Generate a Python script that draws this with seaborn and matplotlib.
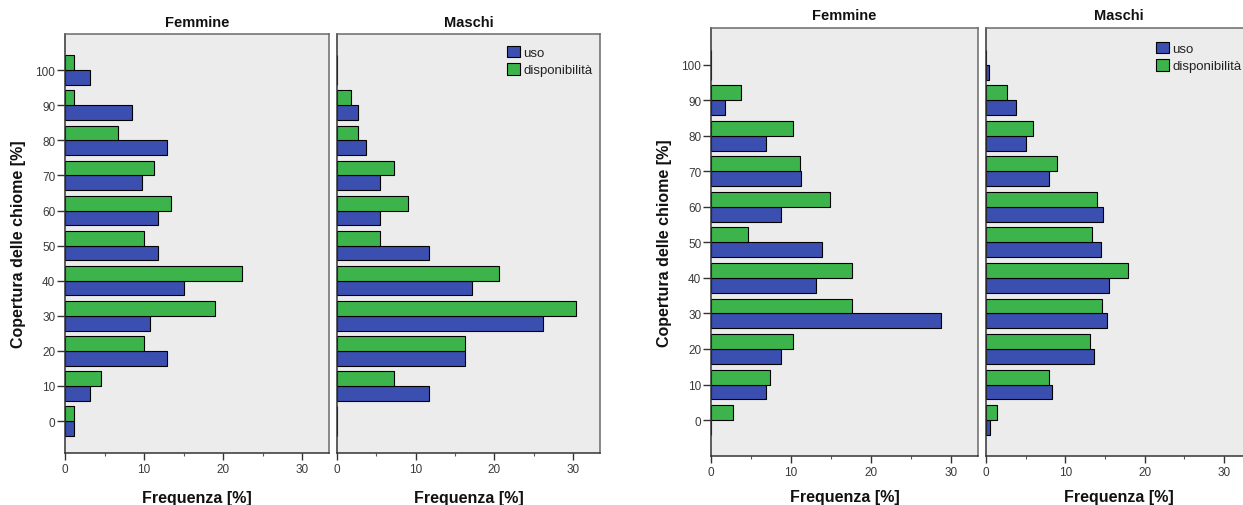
import matplotlib
matplotlib.use("Agg")
import matplotlib.pyplot as plt
from matplotlib.patches import Patch
from matplotlib.ticker import MultipleLocator
import pandas as pd
import seaborn as sns

# Classi di copertura delle chiome [%]
copertura = [0, 10, 20, 30, 40, 50, 60, 70, 80, 90, 100]
serie = ["uso", "disponibilità"]
pannelli = ["Femmine", "Maschi"]

# Grafico di sinistra: frequenze [%] per classe di copertura
uso_femmine_a = [1.1, 3.2, 12.9, 10.7, 15.0, 11.8, 11.8, 9.7, 12.9, 8.5, 3.2]
disp_femmine_a = [1.1, 4.5, 10.0, 19.0, 22.4, 10.0, 13.4, 11.2, 6.7, 1.1, 1.1]
uso_maschi_a = [0.0, 11.7, 16.3, 26.2, 17.2, 11.7, 5.5, 5.5, 3.7, 2.7, 0.0]
disp_maschi_a = [0.0, 7.2, 16.2, 30.4, 20.6, 5.5, 9.0, 7.2, 2.7, 1.8, 0.0]

# Grafico di destra
uso_femmine_b = [0.0, 6.9, 8.7, 28.8, 13.1, 13.9, 8.7, 11.3, 6.9, 1.7, 0.0]
disp_femmine_b = [2.8, 7.4, 10.2, 17.7, 17.7, 4.6, 14.9, 11.1, 10.2, 3.7, 0.0]
uso_maschi_b = [0.5, 8.3, 13.6, 15.2, 15.5, 14.5, 14.7, 8.0, 5.0, 3.8, 0.4]
disp_maschi_b = [1.4, 7.9, 13.1, 14.6, 17.9, 13.3, 14.0, 9.0, 5.9, 2.6, 0.0]

colori = {"uso": "#3a4fb0", "disponibilità": "#3cb44b"}

sns.set_style("white")
plt.rcParams["font.family"] = ["Liberation Sans", "DejaVu Sans"]

W, H = 1243, 506
fig = plt.figure(figsize=(W / 100, H / 100), dpi=100)


def riquadro(l, t, r, b):
    return [l / W, 1 - b / H, (r - l) / W, (b - t) / H]


def tabella(uso, disp):
    n = len(copertura)
    return pd.DataFrame({
        "copertura": copertura * 2,
        "frequenza": list(uso) + list(disp),
        "serie": [serie[0]] * n + [serie[1]] * n,
    })


grafici = [
    dict(dati=[(uso_femmine_a, disp_femmine_a), (uso_maschi_a, disp_maschi_a)],
         box=[(65, 35, 329, 454), (337, 35, 600, 454)],
         ylim=(-9.1, 110.3), titolo_y=22.7, legenda=(507, 47)),
    dict(dati=[(uso_femmine_b, disp_femmine_b), (uso_maschi_b, disp_maschi_b)],
         box=[(711, 29, 978, 457), (986, 29, 1251, 457)],
         ylim=(-10.1, 110.3), titolo_y=16.3, legenda=(1156, 43)),
]

for g in grafici:
    for k, ((uso, disp), b) in enumerate(zip(g["dati"], g["box"])):
        ax = fig.add_axes(riquadro(*b))
        ax.set_facecolor("#ececec")
        sns.barplot(data=tabella(uso, disp), x="frequenza", y="copertura",
                    hue="serie", hue_order=serie, palette=colori,
                    saturation=1, orient="h", native_scale=True, width=0.84,
                    edgecolor="black", linewidth=0.8, errorbar=None,
                    legend=False, ax=ax)
        ax.set_xlim(0, 33.4)
        ax.set_ylim(*g["ylim"])
        ax.set_yticks(copertura)
        ax.xaxis.set_major_locator(MultipleLocator(10))
        ax.xaxis.set_minor_locator(MultipleLocator(5))
        ax.tick_params(axis="x", which="major", direction="out", length=5,
                       width=1, pad=2, labelsize=8.5, labelcolor="#3a3a3a",
                       color="#333333", bottom=True)
        ax.tick_params(axis="x", which="minor", direction="out", length=2.5,
                       width=0.8, color="#555555", bottom=True)
        for s in ax.spines.values():
            s.set_color("#6a6a6a")
            s.set_linewidth(1.1)
        ax.spines["bottom"].set_color("#333333")
        ax.spines["left"].set_color("#333333")

        ax.set_xlabel("Frequenza [%]", fontsize=11.5, fontweight="bold",
                      color="#111111")
        ax.xaxis.label.set_va("center")
        ax.xaxis.set_label_coords(0.5, (b[3] - 498) / (b[3] - b[1]))

        if k == 0:
            ax.tick_params(axis="y", direction="out", length=5.5, width=1,
                           pad=1.5, labelsize=8.5, labelcolor="#3a3a3a",
                           color="#333333", left=True)
            ax.set_ylabel("Copertura delle chiome [%]", fontsize=11.5,
                          fontweight="bold", color="#111111")
            ax.yaxis.label.set_va("center")
            xl = 18 if b[0] < 300 else 664
            ax.yaxis.set_label_coords((xl - b[0]) / (b[2] - b[0]), 0.5)
        else:
            ax.tick_params(axis="y", left=False, labelleft=False)
            ax.set_ylabel("")
            maniglie = [Patch(facecolor=colori[s], edgecolor="black",
                              linewidth=0.8, label=s) for s in serie]
            lx, ly = g["legenda"]
            ax.legend(handles=maniglie, loc="upper left",
                      bbox_to_anchor=(lx / W, 1 - ly / H),
                      bbox_transform=fig.transFigure, frameon=False,
                      borderpad=0, borderaxespad=0, fontsize=9.5,
                      handlelength=0.95, handleheight=0.95,
                      handletextpad=0.3, labelspacing=0.3,
                      labelcolor="#222222")

        fig.text((b[0] + b[2]) / 2 / W, 1 - g["titolo_y"] / H, pannelli[k],
                 ha="center", va="center", fontsize=10.5, fontweight="bold",
                 color="#111111")

fig.savefig("out.png", dpi=100, facecolor="white")
